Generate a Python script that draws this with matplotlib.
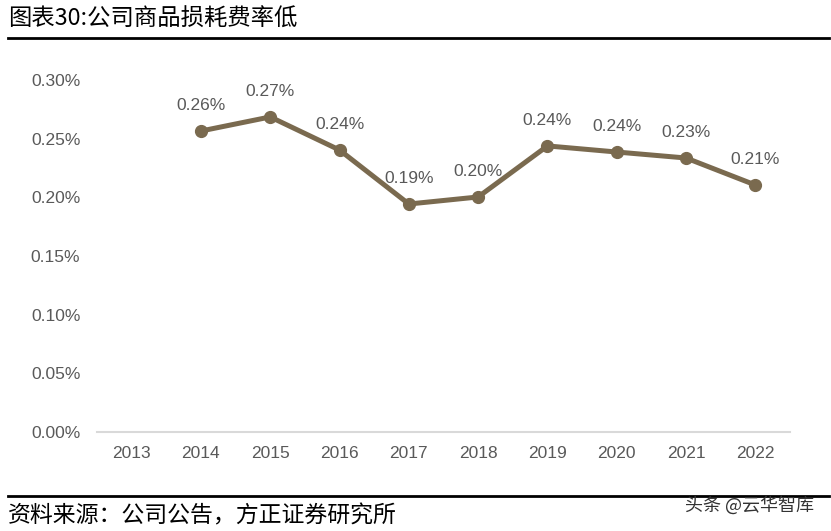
import matplotlib.pyplot as plt
from matplotlib import font_manager
from matplotlib.ticker import FuncFormatter

# chart data
years = ["2013", "2014", "2015", "2016", "2017", "2018", "2019", "2020", "2021", "2022"]
loss_rate = [None, 0.2565, 0.2685, 0.2403, 0.1943, 0.2003, 0.2438, 0.2386, 0.2335, 0.2105]
point_labels = [None, "0.26%", "0.27%", "0.24%", "0.19%", "0.20%", "0.24%", "0.24%", "0.23%", "0.21%"]
y_ticks = [0.00, 0.05, 0.10, 0.15, 0.20, 0.25, 0.30]

title = "图表30:公司商品损耗费率低"
source = "资料来源：公司公告，方正证券研究所"
mark = "头条 @云华智库"

names = {f.name for f in font_manager.fontManager.ttflist}
num_font = "Liberation Sans Narrow" if "Liberation Sans Narrow" in names else "Liberation Sans"
cjk = ["Noto Sans CJK SC", "DejaVu Sans"]

line_color = "#7a6a4f"
text_gray = "#595959"

fig = plt.figure(figsize=(8.31, 5.31), dpi=100)
ax = fig.add_axes([0.1167, 0.1864, 0.834, 0.663])

xs = [i for i, v in enumerate(loss_rate) if v is not None]
vals = [v for v in loss_rate if v is not None]
ax.plot(xs, vals, color=line_color, lw=3.6, marker="o", ms=8.5, zorder=3)

for i, v, lab in zip(range(len(years)), loss_rate, point_labels):
    if v is None:
        continue
    ax.annotate(lab, (i, v), xytext=(0, 13), textcoords="offset points",
                ha="center", va="bottom", fontsize=12.5, color=text_gray,
                family=num_font)

ax.set_xlim(-0.5, len(years) - 0.5)
ax.set_ylim(0, 0.30)
ax.set_xticks(range(len(years)))
ax.set_xticklabels(years)
ax.set_yticks(y_ticks)
ax.yaxis.set_major_formatter(FuncFormatter(lambda v, p: f"{v:.2f}%"))

for lab in ax.get_xticklabels() + ax.get_yticklabels():
    lab.set_family(num_font)
    lab.set_fontsize(12.5)
    lab.set_color(text_gray)

for side in ["top", "right", "left"]:
    ax.spines[side].set_visible(False)
ax.spines["bottom"].set_color("#d9d9d9")
ax.spines["bottom"].set_linewidth(1.5)
ax.tick_params(axis="x", length=0, pad=10)
ax.tick_params(axis="y", length=0, pad=12)

# header and footer
fig.text(0.010, 0.963, title, fontsize=16.8, family=cjk, color="black", va="center")
fig.add_artist(plt.Line2D([0.01, 0.997], [0.928, 0.928], color="black", lw=2,
                          transform=fig.transFigure))
fig.add_artist(plt.Line2D([0.01, 0.997], [0.066, 0.066], color="black", lw=2,
                          transform=fig.transFigure))
fig.text(0.010, 0.028, source, fontsize=16.5, family=cjk, color="black",
         va="center", style="italic")
fig.text(0.98, 0.048, mark, fontsize=13, family=cjk, color="#333333",
         ha="right", va="center")

fig.savefig("out.png", dpi=100)
